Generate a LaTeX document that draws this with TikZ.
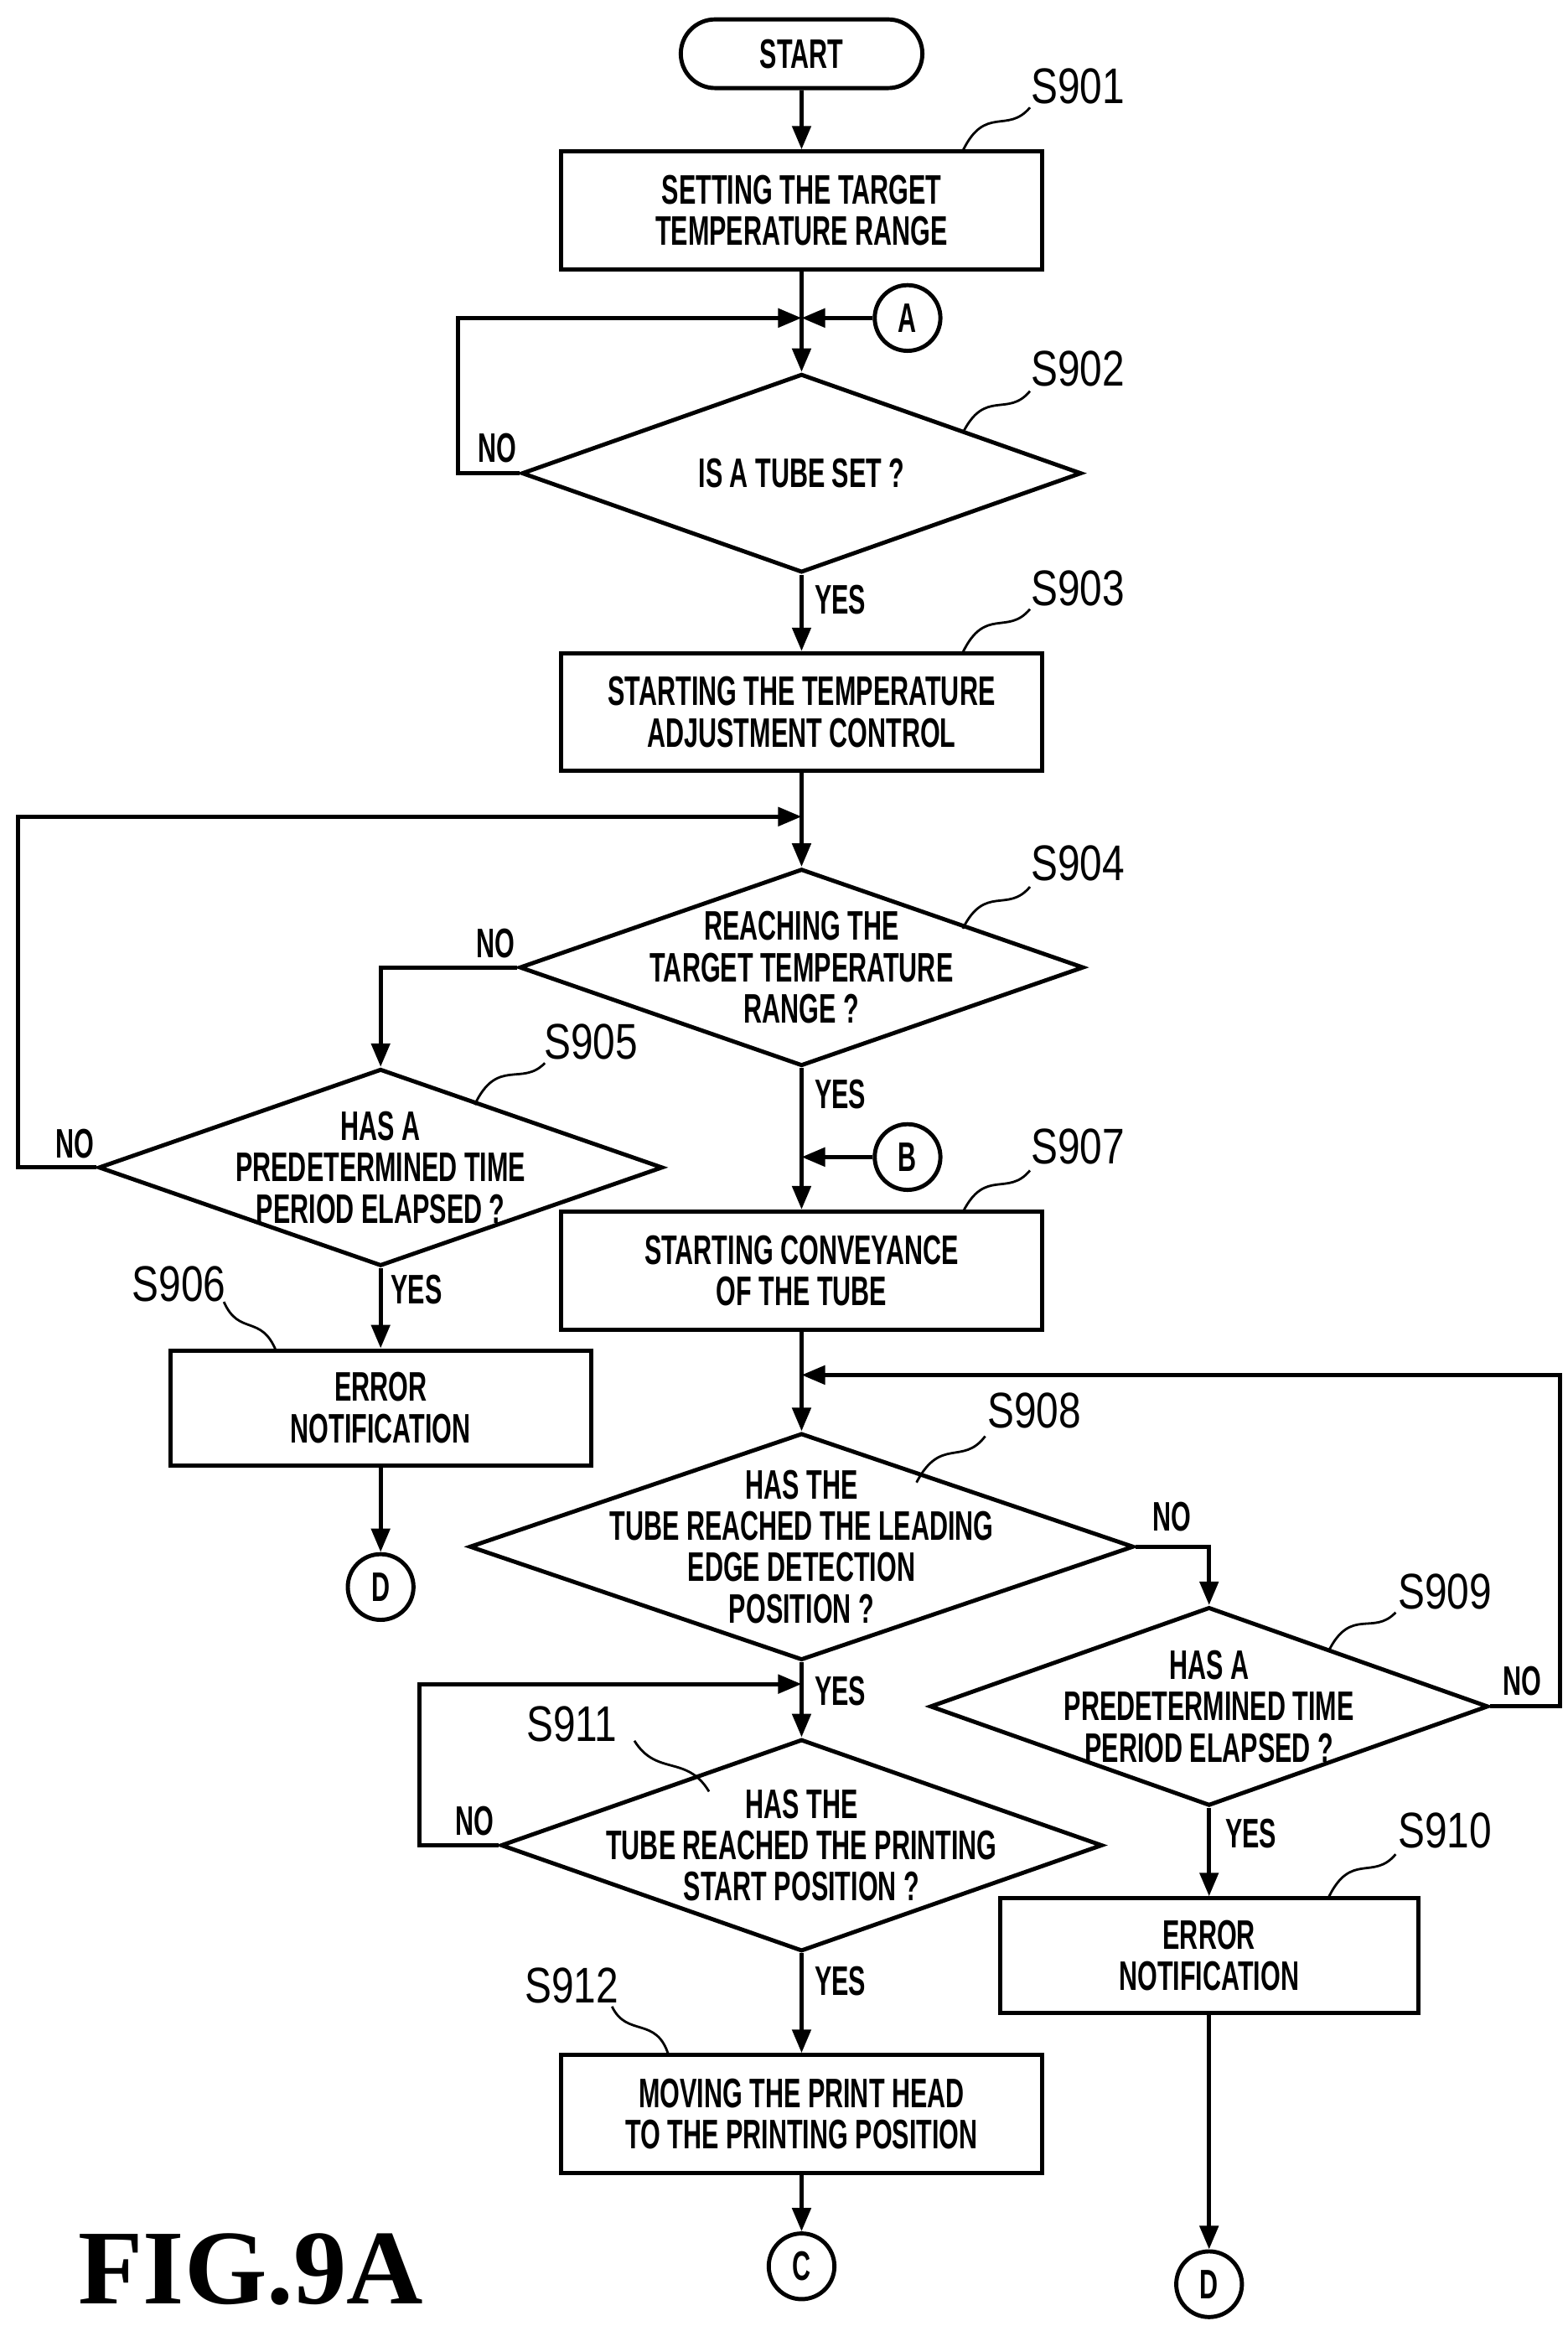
\documentclass[tikz,border=0pt]{standalone}
\usepackage{fontspec}
\setsansfont[FakeStretch=0.62]{Liberation Sans}
\newfontfamily\lblfont[FakeStretch=0.8]{Liberation Sans}
\setmainfont{Liberation Serif}
\usetikzlibrary{shapes.geometric,shapes.misc,arrows.meta}

\tikzset{
  box/.style={draw, rectangle, line width=1.4pt, minimum width=322*0.178mm, minimum height=79*0.178mm, font=\sffamily\bfseries\fontsize{14}{14}\selectfont, align=center},
  dia/.style={draw, diamond, line width=1.4pt, inner sep=0pt},
  txt/.style={font=\sffamily\bfseries\fontsize{14}{14}\selectfont, align=center},
  conn/.style={draw, circle, line width=1.4pt, minimum size=44*0.178mm, inner sep=0pt, font=\sffamily\bfseries\fontsize{14}{14}\selectfont},
  yn/.style={font=\sffamily\bfseries\fontsize{14}{14}\selectfont},
  steplbl/.style={font=\lblfont\fontsize{17}{17}\selectfont},
  flow/.style={line width=1.4pt, -{Triangle[length=2.8mm,width=2.2mm]}},
  line/.style={line width=1.4pt},
  lead/.style={line width=0.8pt}
}

\begin{document}
\begin{tikzpicture}[x=0.178mm, y=-0.178mm]
  \useasboundingbox (0,0) rectangle (1050,1558);

  % start and first steps
  \node[draw, rounded rectangle, line width=1.4pt, minimum width=175*0.178mm, minimum height=46*0.178mm, font=\sffamily\bfseries\fontsize{14}{14}\selectfont] (start) at (537,36) {START};
  \node[box] (s901) at (537,141) {SETTING THE TARGET\\TEMPERATURE RANGE};
  \coordinate (j1) at (537,213);
  \node[conn] (A) at (608,213) {A};
  \node[dia, minimum width=375*0.178mm, minimum height=133*0.178mm] (s902) at (537,317) {};
  \node[txt] at (s902) {IS A TUBE SET ?};
  \node[box] (s903) at (537,477) {STARTING THE TEMPERATURE\\ADJUSTMENT CONTROL};
  \coordinate (j2) at (537,547);
  \node[dia, minimum width=378*0.178mm, minimum height=132*0.178mm] (s904) at (537,648) {};
  \node[txt] at (s904) {REACHING THE\\TARGET TEMPERATURE\\RANGE ?};
  \node[dia, minimum width=378*0.178mm, minimum height=132*0.178mm] (s905) at (255,782) {};
  \node[txt] at (s905) {HAS A\\PREDETERMINED TIME\\PERIOD ELAPSED ?};
  \node[box, minimum width=282*0.178mm, minimum height=77*0.178mm] (s906) at (255,943) {ERROR\\NOTIFICATION};
  \node[conn] (D1) at (255,1063) {D};

  % conveyance
  \coordinate (j3) at (537,775);
  \node[conn] (B) at (608,775) {B};
  \node[box] (s907) at (537,851) {STARTING CONVEYANCE\\OF THE TUBE};
  \coordinate (j4) at (537,921);
  \node[dia, minimum width=445*0.178mm, minimum height=152*0.178mm] (s908) at (537,1036) {};
  \node[txt] at (s908) {HAS THE\\TUBE REACHED THE LEADING\\EDGE DETECTION\\POSITION ?};
  \node[dia, minimum width=374*0.178mm, minimum height=133*0.178mm] (s909) at (810,1143) {};
  \node[txt] at (s909) {HAS A\\PREDETERMINED TIME\\PERIOD ELAPSED ?};
  \node[box, minimum width=280*0.178mm, minimum height=77*0.178mm] (s910) at (810,1310) {ERROR\\NOTIFICATION};
  \node[conn] (D2) at (810,1530) {D};
  \coordinate (j5) at (537,1128);
  \node[dia, minimum width=403*0.178mm, minimum height=142*0.178mm] (s911) at (537,1236) {};
  \node[txt] at (s911) {HAS THE\\TUBE REACHED THE PRINTING\\START POSITION ?};
  \node[box] (s912) at (537,1416) {MOVING THE PRINT HEAD\\TO THE PRINTING POSITION};
  \node[conn] (C) at (537,1518) {C};

  % connectors
  \draw[flow] (start) -- (s901);
  \draw[line] (s901) -- (j1);
  \draw[flow] (A) -- (j1);
  \draw[flow] (j1) -- (s902);
  \draw[flow] (s902.west) -- (307,317) |- (j1);
  \draw[flow] (s902) -- (s903);
  \draw[line] (s903) -- (j2);
  \draw[flow] (j2) -- (s904);
  \draw[flow] (s904.west) -| (s905.north);
  \draw[flow] (s905.west) -- (12,782) |- (j2);
  \draw[flow] (s905) -- (s906);
  \draw[flow] (s906) -- (D1);
  \draw[line] (s904) -- (j3);
  \draw[flow] (B) -- (j3);
  \draw[flow] (j3) -- (s907);
  \draw[line] (s907) -- (j4);
  \draw[flow] (j4) -- (s908);
  \draw[flow] (s908.east) -| (s909.north);
  \draw[flow] (s909.east) -- (1045,1143) |- (j4);
  \draw[flow] (s909) -- (s910);
  \draw[flow] (s910) -- (D2);
  \draw[line] (s908) -- (j5);
  \draw[flow] (j5) -- (s911);
  \draw[flow] (s911.west) -- (281,1236) |- (j5);
  \draw[flow] (s911) -- (s912);
  \draw[flow] (s912) -- (C);

  % yes / no
  \node[yn] at (333,300) {NO};
  \node[yn] at (563,402) {YES};
  \node[yn] at (332,632) {NO};
  \node[yn] at (50,766) {NO};
  \node[yn] at (279,864) {YES};
  \node[yn] at (563,733) {YES};
  \node[yn] at (785,1016) {NO};
  \node[yn] at (1020,1126) {NO};
  \node[yn] at (838,1228) {YES};
  \node[yn] at (563,1133) {YES};
  \node[yn] at (318,1220) {NO};
  \node[yn] at (563,1327) {YES};

  % step labels
  \node[steplbl] (l901) at (722,58) {S901};
  \node[steplbl] (l902) at (722,247) {S902};
  \node[steplbl] (l903) at (722,394) {S903};
  \node[steplbl] (l904) at (722,578) {S904};
  \node[steplbl] (l905) at (396,698) {S905};
  \node[steplbl] (l906) at (120,860) {S906};
  \node[steplbl] (l907) at (722,768) {S907};
  \node[steplbl] (l908) at (693,945) {S908};
  \node[steplbl] (l909) at (968,1066) {S909};
  \node[steplbl] (l910) at (968,1226) {S910};
  \node[steplbl] (l911) at (383,1155) {S911};
  \node[steplbl] (l912) at (383,1330) {S912};
  \draw[lead] (645,101) .. controls (660,70) and (675,90) .. (690,72);
  \draw[lead] (645,290) .. controls (660,260) and (675,280) .. (690,262);
  \draw[lead] (645,437) .. controls (660,406) and (675,426) .. (690,408);
  \draw[lead] (645,622) .. controls (660,592) and (675,612) .. (690,594);
  \draw[lead] (318,740) .. controls (333,708) and (350,728) .. (365,712);
  \draw[lead] (185,905) .. controls (175,880) and (160,895) .. (150,872);
  \draw[lead] (645,812) .. controls (660,782) and (675,802) .. (690,784);
  \draw[lead] (614,993) .. controls (630,962) and (645,982) .. (660,962);
  \draw[lead] (890,1106) .. controls (905,1076) and (920,1096) .. (935,1080);
  \draw[lead] (890,1271) .. controls (905,1240) and (920,1260) .. (935,1242);
  \draw[lead] (475,1200) .. controls (460,1175) and (440,1190) .. (425,1166);
  \draw[lead] (448,1377) .. controls (440,1350) and (420,1365) .. (410,1344);

  \node[font=\rmfamily\bfseries\fontsize{36}{36}\selectfont] (fig) at (168,1520) {FIG.9A};
\end{tikzpicture}
\end{document}
